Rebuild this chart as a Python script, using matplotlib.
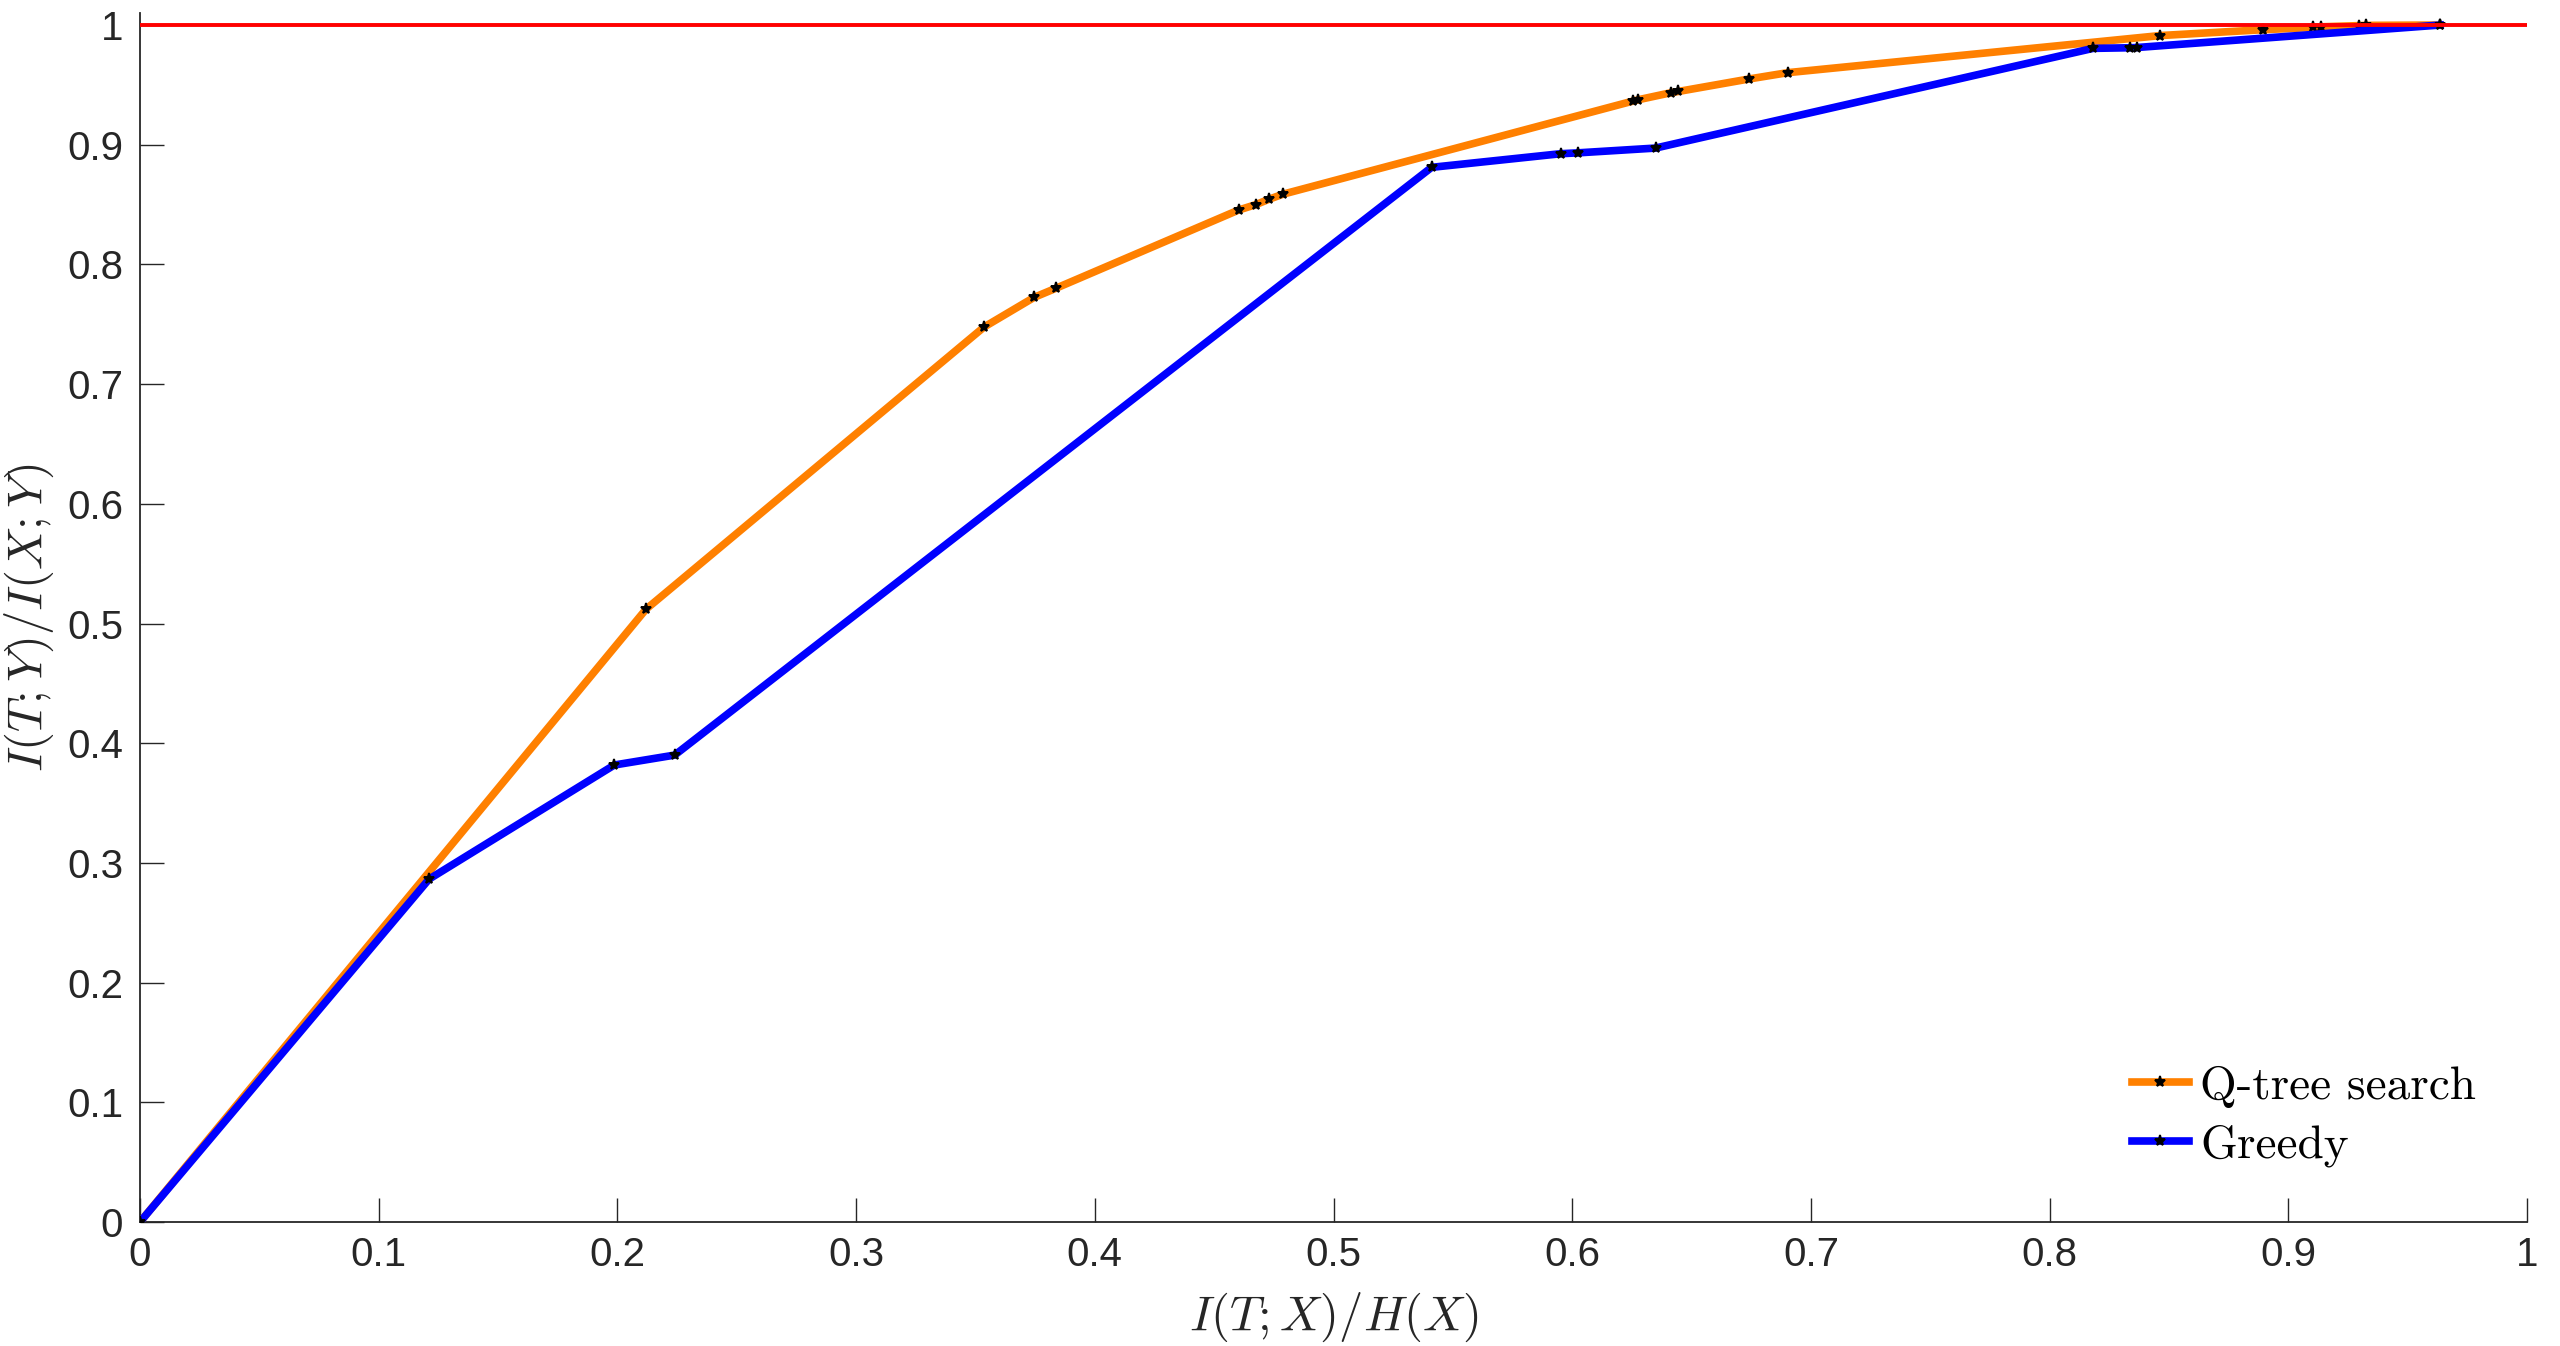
import matplotlib
matplotlib.use("Agg")
import matplotlib.pyplot as plt

# ---- data ----
qtree_x = [0, 0.212, 0.3536, 0.3746, 0.3836, 0.4602, 0.4675, 0.4729, 0.4787,
           0.6255, 0.6275, 0.6415, 0.6445, 0.674, 0.6903, 0.8464, 0.8895,
           0.9105, 0.9135, 0.9295, 0.9325, 0.9636]
qtree_y = [0, 0.512, 0.7477, 0.7725, 0.780, 0.8454, 0.850, 0.8544, 0.8586,
           0.9365, 0.9375, 0.9435, 0.9445, 0.9549, 0.9602, 0.9912, 0.9961,
           0.998, 0.9985, 0.9995, 0.9997, 1.0]
greedy_x = [0, 0.1211, 0.1987, 0.224, 0.5411, 0.5952, 0.6023, 0.6349,
            0.8182, 0.8335, 0.8365, 0.9636]
greedy_y = [0, 0.2865, 0.3818, 0.3901, 0.8811, 0.8925, 0.8932, 0.8972,
            0.9805, 0.981, 0.9812, 1.0]
ref_level = 1.0
series_labels = ["Q-tree search", "Greedy"]
xticks = [0, 0.1, 0.2, 0.3, 0.4, 0.5, 0.6, 0.7, 0.8, 0.9, 1]
xticklabels = ["0", "0.1", "0.2", "0.3", "0.4", "0.5", "0.6", "0.7", "0.8", "0.9", "1"]
yticks = xticks
yticklabels = xticklabels

plt.rcParams['mathtext.fontset'] = 'cm'

fig = plt.figure(figsize=(25.6, 13.46), dpi=100)
ax = fig.add_axes([0.0547, 0.0921, 0.9324, 0.8982])

axis_col = '#262626'
orange = '#FF8000'
blue = '#0000FF'

ax.plot(qtree_x, qtree_y, color=orange, lw=5.5, marker='*', ms=8,
        mfc='black', mec='black', mew=1.4, label=series_labels[0], zorder=3)
ax.plot(greedy_x, greedy_y, color=blue, lw=5.5, marker='*', ms=8,
        mfc='black', mec='black', mew=1.4, label=series_labels[1], zorder=4)
ax.axhline(ref_level, color='#FF0000', lw=2.8, zorder=5)

ax.set_xlim(0, 1)
ax.set_ylim(0, 1.01)
ax.set_xticks(xticks)
ax.set_xticklabels(xticklabels)
ax.set_yticks(yticks)
ax.set_yticklabels(yticklabels)

for s in ['top', 'right']:
    ax.spines[s].set_visible(False)
for s in ['left', 'bottom']:
    ax.spines[s].set_color(axis_col)
    ax.spines[s].set_linewidth(1.3)

ax.tick_params(direction='in', length=17, width=1.0, color=axis_col,
               labelcolor=axis_col, labelsize=29)
ax.tick_params(axis='x', pad=10)
ax.tick_params(axis='y', pad=12)
for lab in ax.get_xticklabels() + ax.get_yticklabels():
    lab.set_fontfamily('Liberation Sans')

ax.set_xlabel(r'$I(T;X)/H(X)$', fontsize=35, color=axis_col, labelpad=12)
ax.set_ylabel(r'$I(T;Y)/I(X;Y)$', fontsize=35, color=axis_col, labelpad=8)

leg = ax.legend(loc='center left', bbox_to_anchor=(0.8345, 0.0875),
                frameon=False, prop={'family': 'cmr10', 'size': 34},
                handlelength=1.2, handletextpad=0.25, labelspacing=0.35,
                borderpad=0, borderaxespad=0)

fig.savefig('out.png', dpi=100)
